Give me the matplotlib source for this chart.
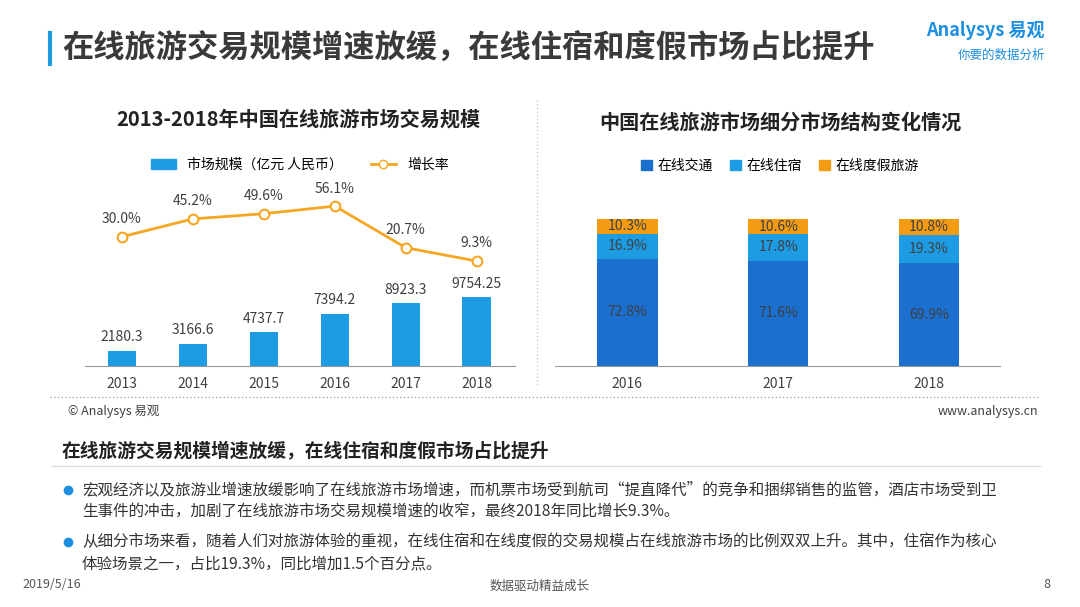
import matplotlib.pyplot as plt
from matplotlib.lines import Line2D

plt.rcParams['font.family'] = ['Noto Sans CJK SC', 'DejaVu Sans']

# 数据
years = ['2013', '2014', '2015', '2016', '2017', '2018']
scale = [2180.3, 3166.6, 4737.7, 7394.2, 8923.3, 9754.25]
growth = [30.0, 45.2, 49.6, 56.1, 20.7, 9.3]

seg_years = ['2016', '2017', '2018']
traffic = [72.8, 71.6, 69.9]
lodging = [16.9, 17.8, 19.3]
vacation = [10.3, 10.6, 10.8]

W, H = 1080, 607
fig = plt.figure(figsize=(10.8, 6.07), dpi=100)

def px(x, y):
    return x / W, 1 - y / H

c_blue = '#1a6fcf'
c_light = '#1d9be3'
c_orange = '#f39c12'
c_text = '#404040'

# 标题
fig.add_artist(Line2D([50 / W, 50 / W], [1 - 33 / H, 1 - 64 / H], color='#1d9be3', lw=3))
fig.text(*px(62, 48), '在线旅游交易规模增速放缓，在线住宿和度假市场占比提升',
         fontsize=22.5, fontweight='bold', color='#3a3a3a', va='center')
fig.text(*px(1045, 30), 'Analysys 易观', fontsize=13, color='#1d8fe0', ha='right', va='center',
         fontweight='bold', style='italic')
fig.text(*px(1045, 55), '你要的数据分析', fontsize=9, color='#1d8fe0', ha='right', va='center')

# 左图
ax1 = fig.add_axes([85 / W, (H - 366) / H, 430 / W, 190 / H])
x = range(len(years))
ax1.bar(x, scale, width=0.4, color=c_light)
for i, v in enumerate(scale):
    ax1.text(i, v + 900, f'{v:g}', ha='center', va='bottom', fontsize=10, color=c_text)
ax1.set_xlim(-0.52, 5.54)
ax1.set_ylim(0, 26860)
ax1.set_xticks(list(x))
ax1.set_xticklabels(years, fontsize=10, color=c_text)
ax1.set_yticks([])
for s in ['top', 'left', 'right']:
    ax1.spines[s].set_visible(False)
ax1.spines['bottom'].set_color('#999999')
ax1.tick_params(axis='x', length=0, pad=8)
ax1.patch.set_alpha(0)

ax2 = ax1.twinx()
ax2.plot(x, growth, color='#f5a623', lw=2, marker='o', markersize=7,
         markerfacecolor='white', markeredgewidth=1.5)
for i, v in enumerate(growth):
    ax2.text(i, v + 9, f'{v:.1f}%', ha='center', va='bottom', fontsize=10, color=c_text)
ax2.set_ylim(-80, 81.7)
ax2.axis('off')

fig.text(*px(298, 119), '2013-2018年中国在线旅游市场交易规模', fontsize=14.5, fontweight='bold',
         color='#222222', ha='center', va='center')
fig.legend(handles=[plt.Rectangle((0, 0), 1, 1, color=c_light),
                    Line2D([], [], color='#f5a623', marker='o', markerfacecolor='white', lw=2)],
           labels=['市场规模（亿元 人民币）', '增长率'], loc='center', bbox_to_anchor=px(300, 165),
           ncol=2, frameon=False, fontsize=10, handlelength=1.8, columnspacing=2)

# 右图
ax3 = fig.add_axes([555 / W, (H - 366) / H, 445 / W, 190 / H])
sx = range(len(seg_years))
ax3.bar(sx, traffic, width=0.4, color=c_blue)
ax3.bar(sx, lodging, width=0.4, bottom=traffic, color=c_light)
bot2 = [a + b for a, b in zip(traffic, lodging)]
ax3.bar(sx, vacation, width=0.4, bottom=bot2, color=c_orange)
for i in sx:
    ax3.text(i, traffic[i] / 2, f'{traffic[i]:.1f}%', ha='center', va='center', fontsize=10, color=c_text)
    ax3.text(i, traffic[i] + lodging[i] / 2, f'{lodging[i]:.1f}%', ha='center', va='center', fontsize=10, color=c_text)
    ax3.text(i, bot2[i] + vacation[i] / 2, f'{vacation[i]:.1f}%', ha='center', va='center', fontsize=10, color=c_text)
ax3.set_xlim(-0.48, 2.47)
ax3.set_ylim(0, 129)
ax3.set_xticks(list(sx))
ax3.set_xticklabels(seg_years, fontsize=10, color=c_text)
ax3.set_yticks([])
for s in ['top', 'left', 'right']:
    ax3.spines[s].set_visible(False)
ax3.spines['bottom'].set_color('#999999')
ax3.tick_params(axis='x', length=0, pad=8)

fig.text(*px(780, 122), '中国在线旅游市场细分市场结构变化情况', fontsize=14.5, fontweight='bold',
         color='#222222', ha='center', va='center')
fig.legend(handles=[plt.Rectangle((0, 0), 1, 1, color=c) for c in [c_blue, c_light, c_orange]],
           labels=['在线交通', '在线住宿', '在线度假旅游'], loc='center', bbox_to_anchor=px(780, 166),
           ncol=3, frameon=False, fontsize=10, handlelength=0.8, handleheight=0.8, columnspacing=1.2,
           handletextpad=0.4)

# 分隔线与来源
fig.add_artist(Line2D([537 / W, 537 / W], [1 - 100 / H, 1 - 385 / H], color='#cccccc', lw=1, ls=':'))
fig.add_artist(Line2D([50 / W, 1040 / W], [1 - 397 / H, 1 - 397 / H], color='#aaaaaa', lw=1, ls=':'))
fig.text(*px(68, 412), '© Analysys 易观', fontsize=9, color=c_text, va='center')
fig.text(*px(1038, 412), 'www.analysys.cn', fontsize=9, color=c_text, va='center', ha='right')

# 正文
fig.text(*px(62, 452), '在线旅游交易规模增速放缓，在线住宿和度假市场占比提升', fontsize=13.5,
         fontweight='bold', color='#222222', va='center')
fig.add_artist(Line2D([52 / W, 1040 / W], [1 - 466 / H, 1 - 466 / H], color='#dddddd', lw=1))
bullets = [
    (490, '宏观经济以及旅游业增速放缓影响了在线旅游市场增速，而机票市场受到航司“提直降代”的竞争和捆绑销售的监管，酒店市场受到卫'),
    (512, '生事件的冲击，加剧了在线旅游市场交易规模增速的收窄，最终2018年同比增长9.3%。'),
    (542, '从细分市场来看，随着人们对旅游体验的重视，在线住宿和在线度假的交易规模占在线旅游市场的比例双双上升。其中，住宿作为核心'),
    (564, '体验场景之一，占比19.3%，同比增加1.5个百分点。'),
]
for y, t in bullets:
    fig.text(*px(82, y), t, fontsize=11.2, color='#333333', va='center')
for y in [490, 542]:
    fig.add_artist(Line2D([68 / W], [1 - y / H], marker='o', color='#1d8fe0', markersize=6, lw=0))

fig.text(*px(22, 585), '2019/5/16', fontsize=9, color='#555555', va='center')
fig.text(*px(540, 586), '数据驱动精益成长', fontsize=9, color='#555555', va='center', ha='center')
fig.text(*px(1050, 585), '8', fontsize=9, color='#555555', va='center', ha='right')

fig.savefig('out.png', dpi=100)
